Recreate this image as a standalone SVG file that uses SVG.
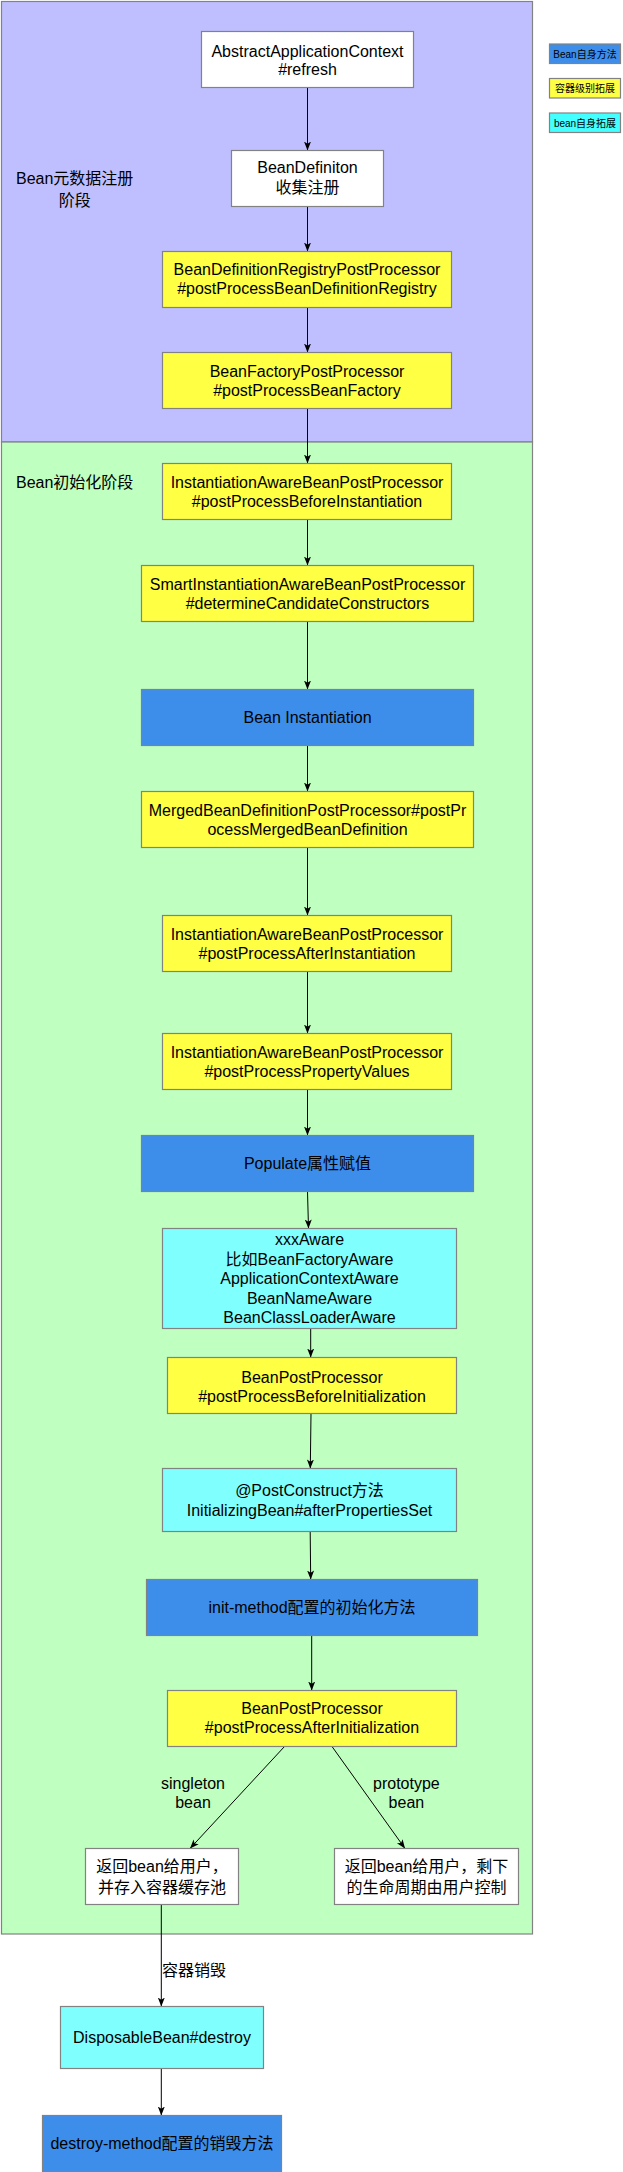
<svg xmlns="http://www.w3.org/2000/svg" width="623" height="2172" viewBox="0 0 623 2172">
<style>
text{font-family:"Liberation Sans","Noto Sans CJK SC",sans-serif;font-size:16px;fill:#000;text-anchor:middle}
.lg{font-size:10px}
.st{text-anchor:start}
.box{stroke:#828282;stroke-width:1.2}
.w{fill:#ffffff}
.y{fill:#ffff44}
.c{fill:#80ffff}
.b{fill:#3d8eea}
.edge{stroke:#000;stroke-width:1;fill:none;marker-end:url(#arr)}
</style>
<defs>
<marker id="arr" markerUnits="userSpaceOnUse" markerWidth="9" markerHeight="8" viewBox="0 0 9 8" refX="9" refY="4" orient="auto">
<path d="M0,0.5 L9,4 L0,7.5 L2.2,4 Z" fill="#000"/>
</marker>
</defs>

<g id="stage-register">
<rect x="1.5" y="1.5" width="531" height="440.5" fill="#bfbfff" class="box"/>
<text x="74.7" y="184">Bean元数据注册</text>
<text x="74.7" y="206">阶段</text>
</g>
<g id="stage-init">
<rect x="1.5" y="442" width="531" height="1492" fill="#bfffbf" class="box"/>
<text x="74.7" y="487.5">Bean初始化阶段</text>
</g>

<g id="legend">
<g id="legend-bean-method"><rect x="549.5" y="44" width="71" height="19.5" class="box b"/><text class="lg" x="585" y="57.5">Bean自身方法</text></g>
<g id="legend-container-ext"><rect x="549.5" y="78.5" width="71" height="19.5" class="box" fill="#ffff44"/><text class="lg" x="585" y="92">容器级别拓展</text></g>
<g id="legend-bean-ext"><rect x="549.5" y="113" width="71" height="19.5" class="box" fill="#44ffff"/><text class="lg" x="585" y="126.5">bean自身拓展</text></g>
</g>

<g id="connectors">
<path class="edge" d="M307.5,87.5 L307.5,150.5"/>
<path class="edge" d="M307.5,206.5 L307.5,251.5"/>
<path class="edge" d="M307.5,307.5 L307.5,352.5"/>
<path class="edge" d="M307.5,408.5 L307.5,463.5"/>
<path class="edge" d="M307.5,519.5 L307.5,565.5"/>
<path class="edge" d="M307.5,621.5 L307.5,689.5"/>
<path class="edge" d="M307.5,745.5 L307.5,791.5"/>
<path class="edge" d="M307.5,847.5 L307.5,915.5"/>
<path class="edge" d="M307.5,971.5 L307.5,1033.5"/>
<path class="edge" d="M307.5,1089.5 L307.5,1135.5"/>
<path class="edge" d="M307.5,1191.5 L308.5,1228.5"/>
<path class="edge" d="M310.7,1328.5 L310.7,1357.5"/>
<path class="edge" d="M311,1413.5 L310.3,1468.5"/>
<path class="edge" d="M310.2,1531.5 L310.7,1579.5"/>
<path class="edge" d="M311.7,1635.5 L311.7,1690.5"/>
<path class="edge" d="M284.5,1746.5 L190,1848.5"/>
<path class="edge" d="M332,1746.5 L405,1848.5"/>
<path class="edge" d="M161.3,1904.5 L161.3,2006.5"/>
<path class="edge" d="M161.3,2068.5 L161.3,2115.5"/>
<text x="193" y="1789.3">singleton</text>
<text x="193" y="1808">bean</text>
<text x="406.4" y="1789.3">prototype</text>
<text x="406.4" y="1808">bean</text>
<text class="st" x="162" y="1976">容器销毁</text>
</g>

<g id="n-refresh"><rect x="201.5" y="31.5" width="212" height="56" class="box w"/><text x="307.5" y="56.5">AbstractApplicationContext</text><text x="307.5" y="75">#refresh</text></g>
<g id="n-beandef"><rect x="231.5" y="150.5" width="152" height="56" class="box w"/><text x="307.5" y="172.5">BeanDefiniton</text><text x="307.5" y="193">收集注册</text></g>
<g id="n-bdrpp"><rect x="162.5" y="251.5" width="289" height="56" class="box y"/><text x="307" y="275">BeanDefinitionRegistryPostProcessor</text><text x="307" y="294">#postProcessBeanDefinitionRegistry</text></g>
<g id="n-bfpp"><rect x="162.5" y="352.5" width="289" height="56" class="box y"/><text x="307" y="376.5">BeanFactoryPostProcessor</text><text x="307" y="395.5">#postProcessBeanFactory</text></g>
<g id="n-before-inst"><rect x="162.5" y="463.5" width="289" height="56" class="box y"/><text x="307" y="488">InstantiationAwareBeanPostProcessor</text><text x="307" y="507">#postProcessBeforeInstantiation</text></g>
<g id="n-smart"><rect x="141.5" y="565.5" width="332" height="56" class="box y"/><text x="307.5" y="590">SmartInstantiationAwareBeanPostProcessor</text><text x="307.5" y="609">#determineCandidateConstructors</text></g>
<g id="n-instantiation"><rect x="141.5" y="689.5" width="332" height="56" class="box b"/><text x="307.5" y="723">Bean Instantiation</text></g>
<g id="n-merged"><rect x="141.5" y="791.5" width="332" height="56" class="box y"/><text x="307.5" y="816">MergedBeanDefinitionPostProcessor#postPr</text><text x="307.5" y="835">ocessMergedBeanDefinition</text></g>
<g id="n-after-inst"><rect x="162.5" y="915.5" width="289" height="56" class="box y"/><text x="307" y="940">InstantiationAwareBeanPostProcessor</text><text x="307" y="959">#postProcessAfterInstantiation</text></g>
<g id="n-prop-values"><rect x="162.5" y="1033.5" width="289" height="56" class="box y"/><text x="307" y="1058">InstantiationAwareBeanPostProcessor</text><text x="307" y="1077">#postProcessPropertyValues</text></g>
<g id="n-populate"><rect x="141.5" y="1135.5" width="332" height="56" class="box b"/><text x="307.5" y="1169">Populate属性赋值</text></g>
<g id="n-aware"><rect x="162.5" y="1228.5" width="294" height="100" class="box c"/><text x="309.5" y="1245">xxxAware</text><text x="309.5" y="1264.5">比如BeanFactoryAware</text><text x="309.5" y="1284">ApplicationContextAware</text><text x="309.5" y="1303.5">BeanNameAware</text><text x="309.5" y="1323">BeanClassLoaderAware</text></g>
<g id="n-bpp-before"><rect x="167.5" y="1357.5" width="289" height="56" class="box y"/><text x="312" y="1382.5">BeanPostProcessor</text><text x="312" y="1401.5">#postProcessBeforeInitialization</text></g>
<g id="n-postconstruct"><rect x="162.5" y="1468.5" width="294" height="63" class="box c"/><text x="309.5" y="1496">@PostConstruct方法</text><text x="309.5" y="1516">InitializingBean#afterPropertiesSet</text></g>
<g id="n-init-method"><rect x="146.5" y="1579.5" width="331" height="56" class="box b"/><text x="312" y="1613">init-method配置的初始化方法</text></g>
<g id="n-bpp-after"><rect x="167.5" y="1690.5" width="289" height="56" class="box y"/><text x="312" y="1714">BeanPostProcessor</text><text x="312" y="1733">#postProcessAfterInitialization</text></g>
<g id="n-singleton"><rect x="85.5" y="1848.5" width="153" height="56" class="box w"/><text x="162" y="1871.7">返回bean给用户，</text><text x="162" y="1892.7">并存入容器缓存池</text></g>
<g id="n-prototype"><rect x="334.5" y="1848.5" width="184" height="56" class="box w"/><text x="426.5" y="1871.7">返回bean给用户，剩下</text><text x="426.5" y="1892.7">的生命周期由用户控制</text></g>
<g id="n-disposable"><rect x="60.5" y="2006.5" width="203" height="62" class="box c"/><text x="162" y="2043">DisposableBean#destroy</text></g>
<g id="n-destroy-method"><rect x="42.5" y="2115.5" width="239" height="56" class="box b"/><text x="162" y="2149">destroy-method配置的销毁方法</text></g>
</svg>
